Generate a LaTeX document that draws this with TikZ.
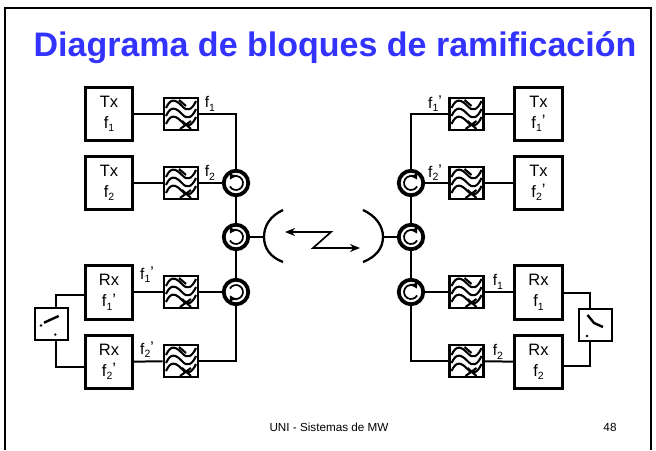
\documentclass[tikz,border=0pt]{standalone}
\usepackage{fontspec}
\setmainfont{Liberation Sans}
\usetikzlibrary{arrows.meta}
\definecolor{titleblue}{RGB}{51,51,255}
\newcommand{\fsb}[1]{f\raisebox{-3.5pt}{\fontsize{10.5}{10.5}\selectfont #1}}
\newcommand{\fpr}[1]{f\raisebox{-3.5pt}{\fontsize{10.5}{10.5}\selectfont #1}\raisebox{1.5pt}{'}}
\tikzset{
  unit/.style={draw,line width=2.8pt,minimum width=47.5pt,minimum height=53.5pt,inner sep=0pt,align=center,font=\fontsize{16.5}{21}\selectfont},
  filt/.style={draw,line width=2.8pt,minimum width=34pt,minimum height=32pt,inner sep=0pt},
  swbox/.style={draw,line width=2.6pt,minimum width=33pt,minimum height=32pt,inner sep=0pt},
  circu/.style={draw,circle,line width=3.8pt,minimum size=24.5pt,inner sep=0pt},
  wire/.style={line width=2pt},
  flab/.style={font=\fontsize{15.5}{15.5}\selectfont,inner sep=0pt},
  inarc/.style={line width=1.7pt,-{Stealth[length=8pt,width=9pt]}},
}
\newcommand{\waves}[1]{%
  \begin{scope}[shift={(#1.center)},line width=2.1pt]
    \foreach \o in {-8,0,8}{
      \draw (-15,\o+2) .. controls (-10,\o-9) and (-5,\o-6) .. (1,\o) .. controls (6,\o+6) and (11,\o+4) .. (15,\o-5);
    }
    \draw (-2,-14)--(5,-8) (1,7)--(10,15) (10,7)--(-1,15);
  \end{scope}}
\newcommand{\turnL}[1]{\draw[inarc] ([shift={(150:7)}]#1.center) arc[start angle=150,end angle=-150,radius=7];}
\newcommand{\turnLb}[1]{\draw[inarc] ([shift={(-150:7)}]#1.center) arc[start angle=-150,end angle=150,radius=7];}
\begin{document}
\begin{tikzpicture}[x=1pt,y=-1pt]
\useasboundingbox (0,0) rectangle (656,450);
\fill[white] (0,0) rectangle (656,450);
% frame
\coordinate (fa) at (5,450); \coordinate (fb) at (5,8); \coordinate (fc) at (651,8); \coordinate (fd) at (651,450);
\draw[line width=2pt] (fa) -- (fb) -- (fc) -- (fd);
\node[font=\bfseries\fontsize{34}{36}\selectfont,text=titleblue,inner sep=0pt,anchor=base] (title) at (335,56) {Diagrama de bloques de ramificación};
\node[font=\fontsize{11.7}{13}\selectfont,inner sep=0pt] (foot) at (329,427) {UNI - Sistemas de MW};
\node[font=\fontsize{11.7}{13}\selectfont,inner sep=0pt] (page) at (610,427) {48};
% left units
\node[unit] (txa) at (109,114) {Tx\\\fsb{1}};
\node[unit] (txb) at (109,183) {Tx\\\fsb{2}};
\node[unit] (rxa) at (109,292.5) {Rx\\\fpr{1}};
\node[unit] (rxb) at (109,362) {Rx\\\fpr{2}};
\node[filt] (fa1) at (181,114) {};
\node[filt] (fa2) at (181,183) {};
\node[filt] (fa3) at (181,292) {};
\node[filt] (fa4) at (181,361) {};
\node[circu] (ca1) at (236,183) {};
\node[circu] (ca2) at (236,237) {};
\node[circu] (ca3) at (236,292) {};
\node[swbox] (swa) at (51.5,324) {};
% right units
\node[unit] (txc) at (538.5,114) {Tx\\\fpr{1}};
\node[unit] (txd) at (538.5,183) {Tx\\\fpr{2}};
\node[unit] (rxc) at (538.5,292.5) {Rx\\\fsb{1}};
\node[unit] (rxd) at (538.5,362) {Rx\\\fsb{2}};
\node[filt] (fb1) at (466.5,114) {};
\node[filt] (fb2) at (466.5,183) {};
\node[filt] (fb3) at (466.5,292) {};
\node[filt] (fb4) at (466.5,361) {};
\node[circu] (cb1) at (411,183) {};
\node[circu] (cb2) at (411,237) {};
\node[circu] (cb3) at (411,292) {};
\node[swbox] (swb) at (595.5,325) {};
% wires left
\draw[wire] (txa) -- (fa1);
\draw[wire] (txb) -- (fa2);
\draw[wire] (rxa.east |- fa3) -- (fa3);
\draw[wire] (rxb) -- (fa4);
\draw[wire] (fa1) -| (ca1);
\draw[wire] (fa2) -- (ca1);
\draw[wire] (ca1) -- (ca2);
\draw[wire] (ca2) -- (ca3);
\draw[wire] (fa3) -- (ca3);
\draw[wire] (ca3) |- (fa4);
\draw[wire] ([xshift=4.5pt]swa.north) |- ([yshift=-2.5pt]rxa.west);
\draw[wire] ([xshift=4.5pt]swa.south) |- ([yshift=-5pt]rxb.west);
% wires right
\draw[wire] (txc) -- (fb1);
\draw[wire] (txd) -- (fb2);
\draw[wire] (rxc.west |- fb3) -- (fb3);
\draw[wire] (rxd) -- (fb4);
\draw[wire] (fb1) -| (cb1);
\draw[wire] (fb2) -- (cb1);
\draw[wire] (cb1) -- (cb2);
\draw[wire] (cb2) -- (cb3);
\draw[wire] (fb3) -- (cb3);
\draw[wire] (cb3) |- (fb4);
\draw[wire] ([xshift=-5.5pt]swb.north) |- (rxc.east);
\draw[wire] ([xshift=-5.5pt]swb.south) |- ([yshift=-3.5pt]rxd.east);
% filters and circulators
\waves{fa1}\waves{fa2}\waves{fa3}\waves{fa4}
\waves{fb1}\waves{fb2}\waves{fb3}\waves{fb4}
\turnL{ca1}\turnL{ca2}\turnLb{ca3}
\foreach \c in {cb1,cb2,cb3}{
  \draw[inarc] ([shift={(30:7)}]\c.center) arc[start angle=30,end angle=330,radius=7];
}
% switches
\coordinate (sa1) at (44,322.7); \coordinate (sa2) at (58.7,316);
\draw[line width=2.4pt] (sa1) -- (sa2);
\fill ([shift={(-10.5,1.5)}]swa.center) circle (1.3);
\fill ([shift={(3.8,10.5)}]swa.center) circle (1.3);
\coordinate (sb1) at (587.5,315); \coordinate (sb2) at (594,323); \coordinate (sb3) at (603,327);
\draw[line width=2.4pt] (sb1) -- (sb2) -- (sb3);
\fill ([shift={(-8.5,11)}]swb.center) circle (1.3);
% antennas
\coordinate (da) at (264,237); \coordinate (db) at (383,237);
\coordinate (da1) at (283,210); \coordinate (da2) at (283,262);
\coordinate (db1) at (363,210); \coordinate (db2) at (363,262);
\draw[line width=2.3pt] (da1) .. controls (270,216) and (264,226) .. (da) .. controls (264,248) and (270,257) .. (da2);
\draw[line width=2.3pt] (db1) .. controls (376,216) and (383,226) .. (db) .. controls (383,248) and (376,257) .. (db2);
\draw[wire] (ca2) -- (da);
\draw[wire] (cb2) -- (db);
% radio link
\coordinate (z0) at (285,232); \coordinate (z1) at (331,232); \coordinate (z2) at (313,248); \coordinate (z3) at (360,248);
\draw[line width=1.7pt,{Stealth[length=10pt,width=8pt]}-{Stealth[length=10pt,width=8pt]},line join=miter] (z0) -- (z1) -- (z2) -- (z3);
% frequency labels
\node[flab] (l1) at (210,104) {\fsb{1}};
\node[flab] (l2) at (210,173) {\fsb{2}};
\node[flab] (l3) at (147,275) {\fpr{1}};
\node[flab] (l4) at (147,350) {\fpr{2}};
\node[flab] (l5) at (435,104) {\fpr{1}};
\node[flab] (l6) at (435,173) {\fpr{2}};
\node[flab] (l7) at (498,282) {\fsb{1}};
\node[flab] (l8) at (498,352) {\fsb{2}};
\end{tikzpicture}
\end{document}
